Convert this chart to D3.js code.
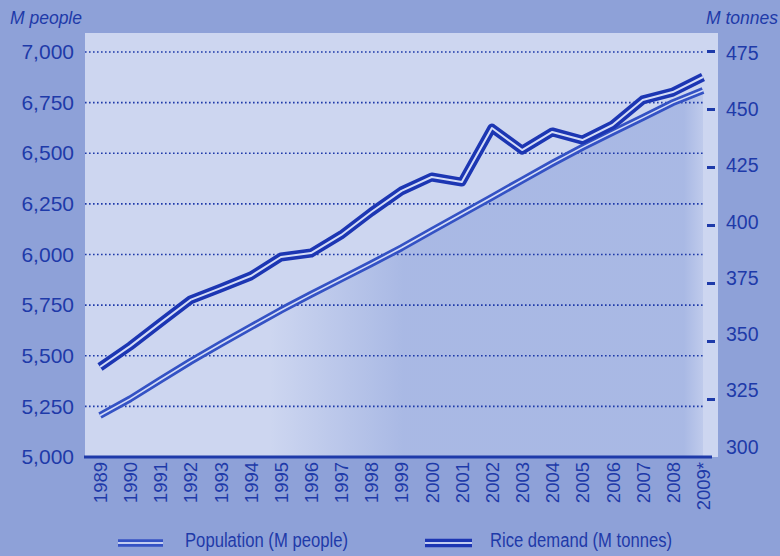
<!DOCTYPE html>
<html>

<head>
    <title>Population and rice demand</title>
    <script src="https://d3js.org/d3.v7.min.js"></script>
    <style>
        body { margin: 0; background: #8ea1d8; }
        svg text { font-family: "Liberation Sans", Arial, sans-serif; }
    </style>
</head>

<body>
    <div id="chart"></div>
    <script>
        // data
        var years = ["1989", "1990", "1991", "1992", "1993", "1994", "1995", "1996", "1997", "1998", "1999",
            "2000", "2001", "2002", "2003", "2004", "2005", "2006", "2007", "2008", "2009*"];
        var population = [5205, 5287, 5380, 5472, 5558, 5642, 5725, 5803, 5879, 5955, 6033,
            6117, 6200, 6283, 6367, 6450, 6529, 6603, 6676, 6750, 6810];
        var riceDemand = [338.8, 347.8, 357.8, 367.7, 372.8, 378.0, 386.2, 387.9, 395.7, 405.6, 414.7,
            420.7, 418.5, 441.8, 432.3, 440.1, 436.6, 443.1, 453.9, 457.3, 463.8];
        var leftTicks = [5000, 5250, 5500, 5750, 6000, 6250, 6500, 6750, 7000];
        var rightTicks = [300, 325, 350, 375, 400, 425, 450, 475];

        const width = 780, height = 556;
        var ink = "#1e3aa9";
        var font = "'Liberation Sans', Arial, sans-serif";

        var svg = d3.select("#chart")
            .append("svg")
            .attr("width", width)
            .attr("height", height);

        var defs = svg.append("defs");
        var shade = defs.append("linearGradient").attr("id", "shade")
            .attr("gradientUnits", "userSpaceOnUse")
            .attr("x1", 270).attr("x2", 715).attr("y1", 0).attr("y2", 0);
        shade.append("stop").attr("offset", 0).attr("stop-color", "#7d95d6").attr("stop-opacity", 0);
        shade.append("stop").attr("offset", 0.3).attr("stop-color", "#7d95d6").attr("stop-opacity", 0.45);
        shade.append("stop").attr("offset", 0.93).attr("stop-color", "#7d95d6").attr("stop-opacity", 0.45);
        shade.append("stop").attr("offset", 1).attr("stop-color", "#7d95d6").attr("stop-opacity", 0);

        // outer background + light panel
        svg.append("rect").attr("width", width).attr("height", height).attr("fill", "#8ea1d8");
        svg.append("rect").attr("x", 85).attr("y", 33).attr("width", 633).attr("height", 424).attr("fill", "#cdd6f0");

        // scales
        var x = d3.scalePoint().domain(years).range([100, 703]);
        var yL = d3.scaleLinear().domain([5000, 7000]).range([457, 52]);
        var yR = d3.scaleLinear().domain([300, 475]).range([457, 51]);
        var yRLabel = d3.scaleLinear().domain([300, 475]).range([447, 53]);

        // shaded area under the population line
        var area = d3.area()
            .x(function (d, i) { return x(years[i]); })
            .y0(457)
            .y1(function (d) { return yL(d); });
        svg.append("path").datum(population).attr("d", area).attr("fill", "url(#shade)");

        // dotted gridlines from left ticks
        svg.append("g")
            .selectAll("line")
            .data(leftTicks.slice(1))
            .enter().append("line")
            .attr("x1", 85).attr("x2", 705)
            .attr("y1", function (d) { return yL(d); })
            .attr("y2", function (d) { return yL(d); })
            .attr("stroke", ink)
            .attr("stroke-width", 1.6)
            .attr("stroke-dasharray", "1.6,2.4");

        // left axis labels
        var leftAxis = svg.append("g")
            .attr("transform", "translate(74,0)")
            .call(d3.axisLeft(yL).tickValues(leftTicks).tickSize(0).tickPadding(0).tickFormat(d3.format(",")));
        leftAxis.select(".domain").remove();
        leftAxis.attr("font-family", font);
        leftAxis.selectAll("text").attr("fill", ink).style("font-size", "21px");

        // right axis dashes
        var rightDash = svg.append("g")
            .attr("transform", "translate(715,0)")
            .call(d3.axisLeft(yR).tickValues(rightTicks.slice(1)).tickSize(8).tickFormat(""));
        rightDash.select(".domain").remove();
        rightDash.selectAll("line").attr("stroke", ink).attr("stroke-width", 3);

        // right axis labels
        var rightAxis = svg.append("g")
            .attr("transform", "translate(726,0)")
            .call(d3.axisRight(yRLabel).tickValues(rightTicks).tickSize(0).tickPadding(0));
        rightAxis.select(".domain").remove();
        rightAxis.attr("font-family", font);
        rightAxis.selectAll("text").attr("fill", ink).style("font-size", "19.5px");

        // baseline
        svg.append("line")
            .attr("x1", 84).attr("x2", 712)
            .attr("y1", 457).attr("y2", 457)
            .attr("stroke", ink).attr("stroke-width", 3);

        // year labels
        var xAxis = svg.append("g")
            .attr("transform", "translate(0,462)")
            .call(d3.axisBottom(x).tickSize(0).tickPadding(0));
        xAxis.select(".domain").remove();
        xAxis.attr("font-family", font);
        xAxis.selectAll("text")
            .attr("fill", ink)
            .style("font-size", "18.5px")
            .style("text-anchor", "end")
            .attr("dy", "0.35em")
            .attr("y", 0)
            .attr("transform", "rotate(-90)");

        // axis titles
        svg.append("text").attr("x", 10).attr("y", 24).text("M people")
            .attr("fill", ink).style("font-size", "17.5px").style("font-style", "italic");
        svg.append("text").attr("x", 778).attr("y", 24).text("M tonnes")
            .attr("fill", ink).style("font-size", "17.5px").style("font-style", "italic")
            .style("text-anchor", "end");

        // double-stroke lines
        var popLine = d3.line()
            .x(function (d, i) { return x(years[i]); })
            .y(function (d) { return yL(d); });
        var riceLine = d3.line()
            .x(function (d, i) { return x(years[i]); })
            .y(function (d) { return yR(d); });

        function drawDouble(path, data, dark, w, wLight) {
            svg.append("path").datum(data).attr("d", path)
                .attr("fill", "none").attr("stroke", dark).attr("stroke-width", w)
                .attr("stroke-linejoin", "round");
            svg.append("path").datum(data).attr("d", path)
                .attr("fill", "none").attr("stroke", "#d4dcf7").attr("stroke-width", wLight)
                .attr("stroke-linejoin", "round");
        }
        drawDouble(popLine, population, "#3452c4", 7, 1.6);
        drawDouble(riceLine, riceDemand, "#1c36b3", 9, 2);

        // legend
        function legendIcon(x0, x1, yc, dark, w) {
            svg.append("line").attr("x1", x0).attr("x2", x1).attr("y1", yc).attr("y2", yc)
                .attr("stroke", dark).attr("stroke-width", w);
            svg.append("line").attr("x1", x0).attr("x2", x1).attr("y1", yc).attr("y2", yc)
                .attr("stroke", "#c3cdf0").attr("stroke-width", w / 4);
        }
        legendIcon(118, 163, 543, "#3452c4", 7.5);
        legendIcon(425, 472, 543, "#1c36b3", 8.5);

        // condensed legend text: squeeze to the printed width
        svg.append("text").attr("x", 185).attr("y", 547).text("Population (M people)")
            .attr("fill", ink).style("font-size", "20px")
            .attr("textLength", 163).attr("lengthAdjust", "spacingAndGlyphs");
        svg.append("text").attr("x", 490).attr("y", 547).text("Rice demand (M tonnes)")
            .attr("fill", ink).style("font-size", "20px")
            .attr("textLength", 182).attr("lengthAdjust", "spacingAndGlyphs");
    </script>
</body>

</html>
